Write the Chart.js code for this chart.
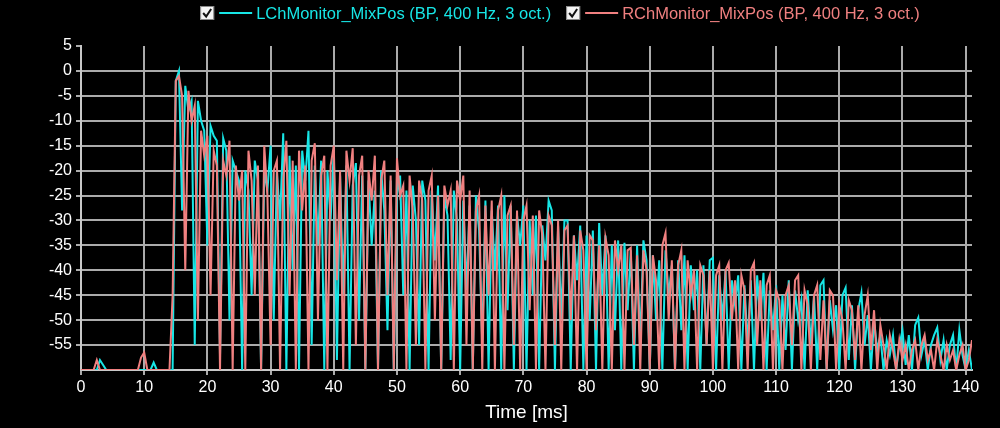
<!DOCTYPE html>
<html>
<head>
<meta charset="utf-8">
<script src="https://cdn.jsdelivr.net/npm/chart.js@4"></script>
<style>
  html, body { margin: 0; padding: 0; background: #000; }
  #wrap { width: 1000px; height: 428px; }
</style>
</head>
<body>
<div id="wrap"><canvas id="irChart" width="1000" height="428"></canvas></div>
<script>
// sample spacing of both channels, in ms (first sample at 0 ms)
const sampleStep = 0.5;

const seriesNames = [
    'LChMonitor_MixPos (BP, 400 Hz, 3 oct.)',
    'RChMonitor_MixPos (BP, 400 Hz, 3 oct.)'
];

// left channel level, dB (one row = 5 ms)
const lChDb = [
    -60,-60,-60,-60,-60,-60,-58,-59,-60,-60,
    -60,-60,-60,-60,-60,-60,-60,-60,-60,-60,
    -60,-60,-60,-58.5,-60,-60,-60,-60,-60,-60,
    -2,0,-28,-3,-8,-6,-55,-6,-10,-12,
    -35,-11,-13,-14,-57,-13.5,-16,-50,-18,-20,
    -22,-60,-20,-24,-45,-18,-22,-60,-20,-24,
    -15,-50,-20,-30,-12.5,-60,-17,-40,-19,-60,
    -16,-22,-12,-55,-19,-35,-18,-60,-20,-30,
    -16,-58,-21,-45,-19,-60,-23,-18.5,-50,-21,
    -60,-22,-35,-24,-60,-20,-28,-52,-22,-60,
    -25,-21,-45,-24,-60,-23,-30,-55,-22,-26,
    -60,-24,-38,-23,-60,-25,-29,-58,-24,-30,
    -60,-26,-44,-27,-60,-25,-32,-55,-26,-60,
    -28,-40,-27,-60,-25,-48,-27,-60,-29,-35,
    -27,-60,-30,-45,-29,-60,-31,-38,-26,-28,
    -60,-31,-50,-30,-30,-60,-33,-42,-31,-60,
    -33,-50,-32,-60,-30.5,-45,-33,-60,-35,-52,
    -34,-60,-34.5,-48,-36,-60,-35,-55,-34,-38,
    -60,-37,-50,-38,-60,-36,-45,-39,-60,-38,
    -52,-37,-60,-39,-48,-40,-60,-39,-55,-38,
    -37.5,-60,-41,-50,-40,-60,-42,-47,-41,-60,
    -43,-55,-42,-60,-41,-50,-40.5,-60,-44,-52,
    -43,-60,-45,-56,-42,-60,-44,-50,-46,-60,
    -44,-55,-45,-60,-43,-42,-60,-46,-52,-47,
    -60,-45,-43.5,-58,-47,-60,-48,-44.5,-55,-49,
    -60,-50,-56,-53,-60,-54,-57,-53,-60,-55,
    -52,-59,-53,-60,-51,-49.5,-57,-54,-60,-55,
    -53,-51.5,-58,-54,-60,-55,-53,-60,-52,-57,
    -60,-56,-60
];

// right channel level, dB (one row = 5 ms)
const rChDb = [
    -60,-60,-60,-60,-60,-58,-60,-60,-60,-60,
    -60,-60,-60,-60,-60,-60,-60,-60,-60,-57.5,
    -56.5,-60,-60,-60,-60,-60,-60,-60,-60,-45,
    -2,-1,-5,-40,-4,-10,-7,-50,-12,-17,
    -13,-45,-16,-19,-60,-18,-21,-14,-60,-19,
    -26,-20,-60,-16,-22,-45,-19,-60,-15,-25,
    -55,-20,-18,-60,-22,-14,-45,-18,-60,-16,
    -28,-19,-60,-18,-14.5,-50,-21,-17,-60,-19,
    -15,-42,-20,-60,-16,-22,-15.5,-55,-21,-17,
    -60,-20,-26,-17,-60,-22,-18,-45,-21,-60,
    -17.5,-25,-23,-60,-21,-28,-55,-22,-26,-60,
    -24,-21,-50,-25,-60,-23,-27,-24,-60,-22,
    -26,-21,-55,-24,-60,-28,-25,-60,-27,-45,
    -26,-60,-28,-25,-60,-29,-27,-55,-28,-60,
    -30,-27,-48,-29,-60,-28,-33,-60,-29,-31,
    -55,-30,-60,-32,-31,-50,-33,-60,-32,-36,
    -60,-33,-34,-52,-35,-60,-33.5,-37,-60,-34,
    -40,-35,-60,-36,-35.5,-55,-37,-60,-36,-40,
    -60,-37,-42,-60,-35,-32.5,-50,-38,-60,-39,
    -36,-60,-38,-45,-40,-60,-39,-41,-55,-40,
    -60,-41,-39,-60,-40,-38.5,-50,-42,-60,-41,
    -44,-60,-40,-38.5,-55,-42,-60,-43,-41,-60,
    -44,-46,-60,-45,-43,-55,-42,-41,-60,-44,
    -47,-60,-45,-43,-58,-46,-60,-44,-45,-60,
    -47,-50,-60,-46,-48,-58,-47,-60,-49,-45,
    -56,-48,-60,-51,-55,-60,-53,-56,-60,-54,
    -58,-55,-60,-56,-54,-60,-55,-53,-58,-56,
    -60,-54,-57,-60,-55,-58,-56,-60,-57,-55,
    -60,-58,-54
];

const xTicks = [0, 10, 20, 30, 40, 50, 60, 70, 80, 90, 100, 110, 120, 130, 140];
const yTicks = [5, 0, -5, -10, -15, -20, -25, -30, -35, -40, -45, -50, -55];

const colors = ['#17e6e6', '#f08080'];
const gridColor = '#ababab';
const fontFamily = '"Liberation Sans", Arial, sans-serif';

function toPoints(values) {
    return values.map((v, i) => ({ x: i * sampleStep, y: v }));
}

// legend with the little check boxes, drawn above the plot
const checkLegend = {
    id: 'checkLegend',
    afterDraw(chart) {
        const c = chart.ctx;
        const y = 13;
        c.save();
        c.font = '16.5px ' + fontFamily;
        c.textBaseline = 'middle';
        let widths = chart.data.datasets.map(ds => 14 + 5 + 33 + 4 + c.measureText(ds.label).width);
        let total = widths.reduce((a, b) => a + b, 0) + 15;
        let x = 560 - total / 2;
        chart.data.datasets.forEach((ds, i) => {
            // box
            c.fillStyle = '#f4f4f4';
            c.fillRect(x, y - 7, 14, 14);
            c.strokeStyle = '#888';
            c.lineWidth = 1;
            c.strokeRect(x + 0.5, y - 6.5, 13, 13);
            c.strokeStyle = '#111';
            c.lineWidth = 2;
            c.beginPath();
            c.moveTo(x + 3, y);
            c.lineTo(x + 6, y + 3.5);
            c.lineTo(x + 11, y - 4);
            c.stroke();
            // line sample
            c.strokeStyle = ds.borderColor;
            c.lineWidth = 2;
            c.beginPath();
            c.moveTo(x + 19, y);
            c.lineTo(x + 52, y);
            c.stroke();
            // label
            c.fillStyle = ds.borderColor;
            c.fillText(ds.label, x + 56, y + 1);
            x += widths[i] + 15;
        });
        c.restore();
    }
};

new Chart(document.getElementById('irChart').getContext('2d'), {
    type: 'line',
    data: {
        datasets: [
            {
                label: seriesNames[0],
                data: toPoints(lChDb),
                borderColor: colors[0],
                borderWidth: 2,
                pointRadius: 0,
                tension: 0,
                order: 1
            },
            {
                label: seriesNames[1],
                data: toPoints(rChDb),
                borderColor: colors[1],
                borderWidth: 2,
                pointRadius: 0,
                tension: 0,
                order: 0
            }
        ]
    },
    options: {
        responsive: false,
        animation: false,
        layout: { padding: { top: 46, right: 28, left: 0, bottom: 0 } },
        plugins: {
            legend: { display: false },
            tooltip: { enabled: false }
        },
        scales: {
            x: {
                type: 'linear',
                min: 0,
                max: 141,
                afterBuildTicks: scale => { scale.ticks = xTicks.map(v => ({ value: v })); },
                afterFit: scale => { scale.height = 58; },
                ticks: {
                    color: '#fff',
                    font: { family: fontFamily, size: 16 },
                    padding: 3,
                    maxRotation: 0
                },
                grid: {
                    color: gridColor,
                    tickColor: gridColor,
                    lineWidth: 2,
                    tickLength: 5
                },
                border: { color: '#c8c8c8', width: 2 },
                title: {
                    display: true,
                    text: 'Time [ms]',
                    color: '#fff',
                    font: { family: fontFamily, size: 19 },
                    padding: { top: 0 }
                }
            },
            y: {
                min: -60,
                max: 5,
                afterBuildTicks: scale => { scale.ticks = yTicks.map(v => ({ value: v })); },
                afterFit: scale => { scale.width = 81; },
                ticks: {
                    color: '#fff',
                    font: { family: fontFamily, size: 16 },
                    padding: 4
                },
                grid: {
                    color: ctx => (ctx.tick && ctx.tick.value === 5) ? 'rgba(0,0,0,0)' : gridColor,
                    tickColor: gridColor,
                    lineWidth: 2,
                    tickLength: 5
                },
                border: { color: '#c8c8c8', width: 2 }
            }
        }
    },
    plugins: [checkLegend]
});
</script>
</body>
</html>
